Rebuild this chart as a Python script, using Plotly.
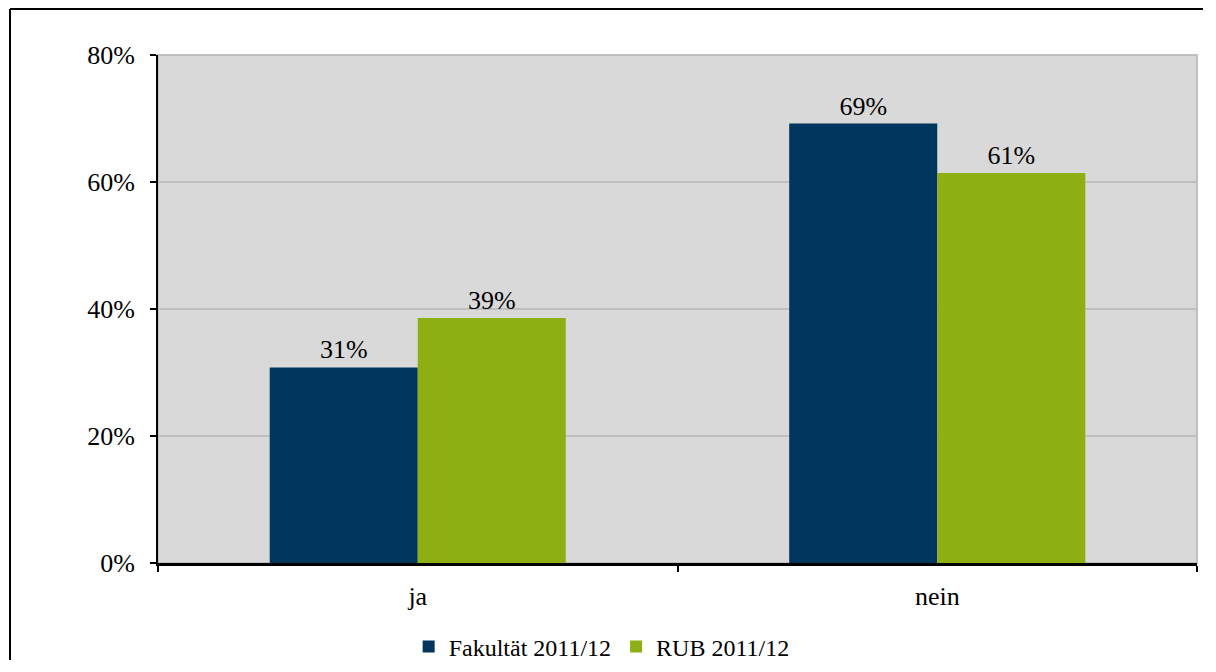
import plotly.graph_objects as go

categories = ["ja", "nein"]
fakultaet = [30.8, 69.2]
rub = [38.6, 61.4]
labels_fak = ["31%", "69%"]
labels_rub = ["39%", "61%"]
series_names = ["Fakultät 2011/12", "RUB 2011/12"]

FONT = "Liberation Serif"
FS = 26
fig = go.Figure()
fig.add_trace(go.Bar(x=categories, y=fakultaet, name=series_names[0],
                     marker=dict(color="#00365E", line=dict(width=0)),
                     text=labels_fak, textposition="outside",
                     textfont=dict(family=FONT, size=FS, color="black"), cliponaxis=False))
fig.add_trace(go.Bar(x=categories, y=rub, name=series_names[1],
                     marker=dict(color="#8DAF14", line=dict(width=0)),
                     text=labels_rub, textposition="outside",
                     textfont=dict(family=FONT, size=FS, color="black"), cliponaxis=False))

FW, FH = 1195, 652
L, T, W, H = 150, 47, 1039, 508
fig.update_layout(
    width=FW, height=FH,
    margin=dict(l=L, r=FW - L - W, t=T, b=FH - T - H, autoexpand=False),
    paper_bgcolor="white", plot_bgcolor="#D9D9D9",
    barmode="group", bargap=0.43, bargroupgap=0,
    font=dict(family=FONT, size=FS, color="black"),
    showlegend=True,
    legend=dict(orientation="h", x=0.427, xanchor="center", y=-0.165, yanchor="middle",
                font=dict(family=FONT, size=24, color="black"),
                itemwidth=30, tracegroupgap=0, bgcolor="rgba(0,0,0,0)"),
)
fig.update_yaxes(range=[0, 80], tickvals=[0, 20, 40, 60, 80],
                 ticktext=["0%", "20%", "40%", "60%", "80%"],
                 showgrid=True, gridcolor="#BFBFBF", gridwidth=1.5,
                 showline=True, linecolor="black", linewidth=2,
                 ticks="outside", ticklen=6, tickcolor="black", tickwidth=1.5,
                 ticklabelstandoff=10,
                 zeroline=False, tickfont=dict(family=FONT, size=FS))
fig.update_xaxes(showline=True, linecolor="black", linewidth=2.5,
                 ticks="outside", tickson="boundaries", ticklen=6, tickcolor="black", tickwidth=1.5,
                 ticklabelstandoff=8,
                 showgrid=False, tickfont=dict(family=FONT, size=FS))

# gray plot border (top/right)
fig.add_shape(type="rect", xref="paper", yref="paper", x0=0, y0=0, x1=1, y1=1,
              line=dict(color="#BFBFBF", width=2), layer="below")
# outer frame: top and left edges (others lie outside the picture)
fx0 = (10 - 158) / W
fy1 = (563 - 9) / H
fig.add_shape(type="line", xref="paper", yref="paper", x0=fx0, x1=(1216 - 158) / W, y0=fy1, y1=fy1,
              line=dict(color="black", width=2))
fig.add_shape(type="line", xref="paper", yref="paper", x0=fx0, x1=fx0, y0=fy1, y1=(563 - 700) / H,
              line=dict(color="black", width=2))

fig.write_html("out.html")
